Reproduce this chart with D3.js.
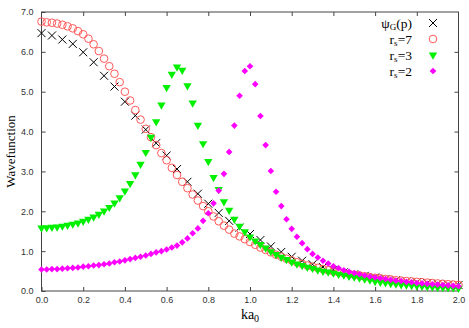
<!DOCTYPE html>
<html>
<head>
<meta charset="utf-8">
<script src="https://cdn.jsdelivr.net/npm/d3@7"></script>
<style>
  html, body { margin: 0; padding: 0; background: #fff; }
  svg { display: block; }
  .tick-label { font-family: "Liberation Sans", Arial, sans-serif; font-size: 9px; fill: #333; }
  .axis-title { font-family: "Liberation Serif", "Times New Roman", serif; fill: #000; }
  .legend text { font-family: "Liberation Serif", "Times New Roman", serif; font-size: 13.5px; fill: #000; }
</style>
</head>
<body>
<svg id="chart" width="469" height="328"></svg>
<script>
// sampling grids (ka0)
const xFine = d3.range(81).map(i => i * 0.025);
const xCoarse = d3.range(41).map(i => i * 0.05);

// psi_G(p), every 0.05
const psiG = [6.47, 6.41, 6.31, 6.20, 5.99, 5.74, 5.40, 5.13, 4.75, 4.40,
  4.05, 3.71, 3.40, 3.06, 2.74, 2.44, 2.19, 1.96, 1.76, 1.59,
  1.43, 1.28, 1.12, 0.98, 0.86, 0.76, 0.67, 0.60, 0.53, 0.47,
  0.42, 0.38, 0.34, 0.30, 0.27, 0.24, 0.22, 0.20, 0.18, 0.16, 0.15];

// r_s = 7, every 0.025
const rs7 = [6.76, 6.74, 6.73, 6.71, 6.68, 6.64, 6.59, 6.52, 6.44, 6.33,
  6.19, 6.02, 5.83, 5.64, 5.45, 5.24, 5.00, 4.78, 4.54, 4.30,
  4.07, 3.86, 3.66, 3.46, 3.28, 3.09, 2.91, 2.74, 2.58, 2.42,
  2.27, 2.13, 2.00, 1.87, 1.75, 1.64, 1.54, 1.44, 1.37, 1.30,
  1.23, 1.16, 1.09, 1.03, 0.97, 0.91, 0.86, 0.81, 0.77, 0.72,
  0.68, 0.64, 0.61, 0.58, 0.55, 0.52, 0.49, 0.47, 0.45, 0.43,
  0.41, 0.39, 0.37, 0.35, 0.33, 0.32, 0.30, 0.29, 0.27, 0.26,
  0.25, 0.24, 0.23, 0.22, 0.21, 0.20, 0.19, 0.18, 0.17, 0.16, 0.15];

// r_s = 3, every 0.025
const rs3 = [1.58, 1.59, 1.60, 1.61, 1.63, 1.65, 1.68, 1.71, 1.75, 1.80,
  1.86, 1.93, 2.01, 2.10, 2.21, 2.34, 2.51, 2.70, 2.92, 3.18,
  3.48, 3.86, 4.25, 4.67, 5.11, 5.44, 5.62, 5.54, 5.15, 4.72,
  4.16, 3.70, 3.25, 2.85, 2.55, 2.24, 2.03, 1.80, 1.63, 1.49,
  1.36, 1.26, 1.17, 1.08, 0.99, 0.92, 0.85, 0.79, 0.73, 0.68,
  0.64, 0.60, 0.57, 0.53, 0.50, 0.48, 0.45, 0.42, 0.40, 0.37,
  0.35, 0.33, 0.30, 0.28, 0.24, 0.22, 0.21, 0.19, 0.18, 0.16,
  0.15, 0.14, 0.13, 0.12, 0.11, 0.10, 0.09, 0.09, 0.08, 0.08, 0.07];

// r_s = 2, every 0.025
const rs2 = [0.54, 0.54, 0.55, 0.55, 0.56, 0.57, 0.58, 0.59, 0.61, 0.62,
  0.64, 0.65, 0.67, 0.69, 0.72, 0.74, 0.77, 0.80, 0.83, 0.86,
  0.89, 0.93, 0.97, 1.00, 1.04, 1.09, 1.14, 1.22, 1.32, 1.45,
  1.57, 1.76, 1.95, 2.20, 2.52, 2.94, 3.49, 4.15, 4.90, 5.52,
  5.64, 5.19, 4.39, 3.66, 3.01, 2.49, 2.13, 1.80, 1.56, 1.36,
  1.20, 1.05, 0.93, 0.84, 0.76, 0.69, 0.62, 0.57, 0.52, 0.48,
  0.45, 0.42, 0.39, 0.36, 0.34, 0.32, 0.30, 0.28, 0.26, 0.25,
  0.23, 0.22, 0.20, 0.19, 0.18, 0.17, 0.16, 0.15, 0.14, 0.13, 0.12];

const xTicks = [0, 0.2, 0.4, 0.6, 0.8, 1.0, 1.2, 1.4, 1.6, 1.8, 2.0];
const yTicks = [0, 1, 2, 3, 4, 5, 6, 7];

const margin = { left: 41.5, right: 10.5, top: 12, bottom: 37 };
const W = 469, H = 328;

const svg = d3.select("#chart");
const x = d3.scaleLinear().domain([0, 2]).range([margin.left, W - margin.right]);
const y = d3.scaleLinear().domain([0, 7]).range([H - margin.bottom, margin.top]);

// X marker as a custom symbol
const symbolX = {
    draw(ctx, size) {
        const r = Math.sqrt(size) / 2;
        ctx.moveTo(-r, -r); ctx.lineTo(r, r);
        ctx.moveTo(-r, r); ctx.lineTo(r, -r);
    }
};

const series = [
    { name: "psi", xs: xCoarse, ys: psiG, type: symbolX, size: 64, fill: "none", stroke: "#000", rot: 0 },
    { name: "rs7", xs: xFine, ys: rs7, type: d3.symbolCircle, size: 46, fill: "none", stroke: "#ff5a5a", rot: 0 },
    { name: "rs3", xs: xFine, ys: rs3, type: d3.symbolTriangle, size: 30, fill: "#00f000", stroke: "none", rot: 180 },
    { name: "rs2", xs: xFine, ys: rs2, type: d3.symbolSquare, size: 22, fill: "#ff00ff", stroke: "none", rot: 45 },
];

// frame
const frame = svg.append("g");
frame.append("rect")
    .attr("x", x(0)).attr("y", y(7))
    .attr("width", x(2) - x(0)).attr("height", y(0) - y(7))
    .attr("fill", "none").attr("stroke", "#444").attr("stroke-width", 1);

const tickLen = 4;
// bottom axis + mirrored top ticks
const xAxis = d3.axisBottom(x).tickValues(xTicks).tickFormat(d3.format(".1f")).tickSizeInner(-tickLen).tickSizeOuter(0).tickPadding(6);
const gx = svg.append("g").attr("transform", `translate(0,${y(0)})`).call(xAxis);
gx.select(".domain").remove();
gx.selectAll("line").attr("stroke", "#444");
gx.selectAll("text").attr("class", "tick-label").attr("fill", null);

const gxTop = svg.append("g").attr("transform", `translate(0,${y(7)})`)
    .call(d3.axisTop(x).tickValues(xTicks.slice(1, -1)).tickSizeInner(-tickLen).tickSizeOuter(0).tickFormat(""));
gxTop.select(".domain").remove();
gxTop.selectAll("line").attr("stroke", "#444");

// left axis + mirrored right ticks
const yAxis = d3.axisLeft(y).tickValues(yTicks).tickFormat(d3.format(".1f")).tickSizeInner(-tickLen).tickSizeOuter(0).tickPadding(8);
const gy = svg.append("g").attr("transform", `translate(${x(0)},0)`).call(yAxis);
gy.select(".domain").remove();
gy.selectAll("line").attr("stroke", "#444");
gy.selectAll("text").attr("class", "tick-label").attr("fill", null);

const gyRight = svg.append("g").attr("transform", `translate(${x(2)},0)`)
    .call(d3.axisRight(y).tickValues(yTicks.slice(1, -1)).tickSizeInner(-tickLen).tickSizeOuter(0).tickFormat(""));
gyRight.select(".domain").remove();
gyRight.selectAll("line").attr("stroke", "#444");

// axis titles
const xt = svg.append("text").attr("class", "axis-title")
    .attr("x", (x(0) + x(2)) / 2).attr("y", 319)
    .attr("text-anchor", "middle").attr("font-size", 14);
xt.append("tspan").text("ka");
xt.append("tspan").attr("font-size", 10).attr("dy", 3).text("0");

svg.append("text").attr("class", "axis-title")
    .attr("transform", `translate(15,${(y(0) + y(7)) / 2}) rotate(-90)`)
    .attr("text-anchor", "middle").attr("font-size", 13)
    .text("Wavefunction");

// points
const plot = svg.append("g");
for (const s of series) {
    const pts = s.xs.map((xv, i) => ({ x: xv, y: s.ys[i] }));
    plot.append("g").attr("class", s.name)
        .selectAll("path")
        .data(pts)
        .join("path")
        .attr("transform", d => `translate(${x(d.x)},${y(d.y)}) rotate(${s.rot})`)
        .attr("d", d3.symbol().type(s.type).size(s.size))
        .attr("fill", s.fill)
        .attr("stroke", s.stroke)
        .attr("stroke-width", 1);
}

// legend
const legendRows = [
    { main: "\u03c8", sub: "G", tail: "(p)", s: series[0] },
    { main: "r", sub: "s", tail: "=7", s: series[1] },
    { main: "r", sub: "s", tail: "=3", s: series[2] },
    { main: "r", sub: "s", tail: "=2", s: series[3] },
];
const legend = svg.append("g").attr("class", "legend");
legendRows.forEach((r, i) => {
    const cy = 23 + i * 16;
    const t = legend.append("text")
        .attr("x", 412).attr("y", cy + 4.5)
        .attr("text-anchor", "end");
    t.append("tspan").text(r.main);
    t.append("tspan").attr("font-size", 9).attr("dy", 2).text(r.sub);
    t.append("tspan").attr("dy", -2).text(r.tail);
    legend.append("path")
        .attr("transform", `translate(433,${cy}) rotate(${r.s.rot})`)
        .attr("d", d3.symbol().type(r.s.type).size(r.s.size))
        .attr("fill", r.s.fill)
        .attr("stroke", r.s.stroke)
        .attr("stroke-width", 1);
});
</script>
</body>
</html>
